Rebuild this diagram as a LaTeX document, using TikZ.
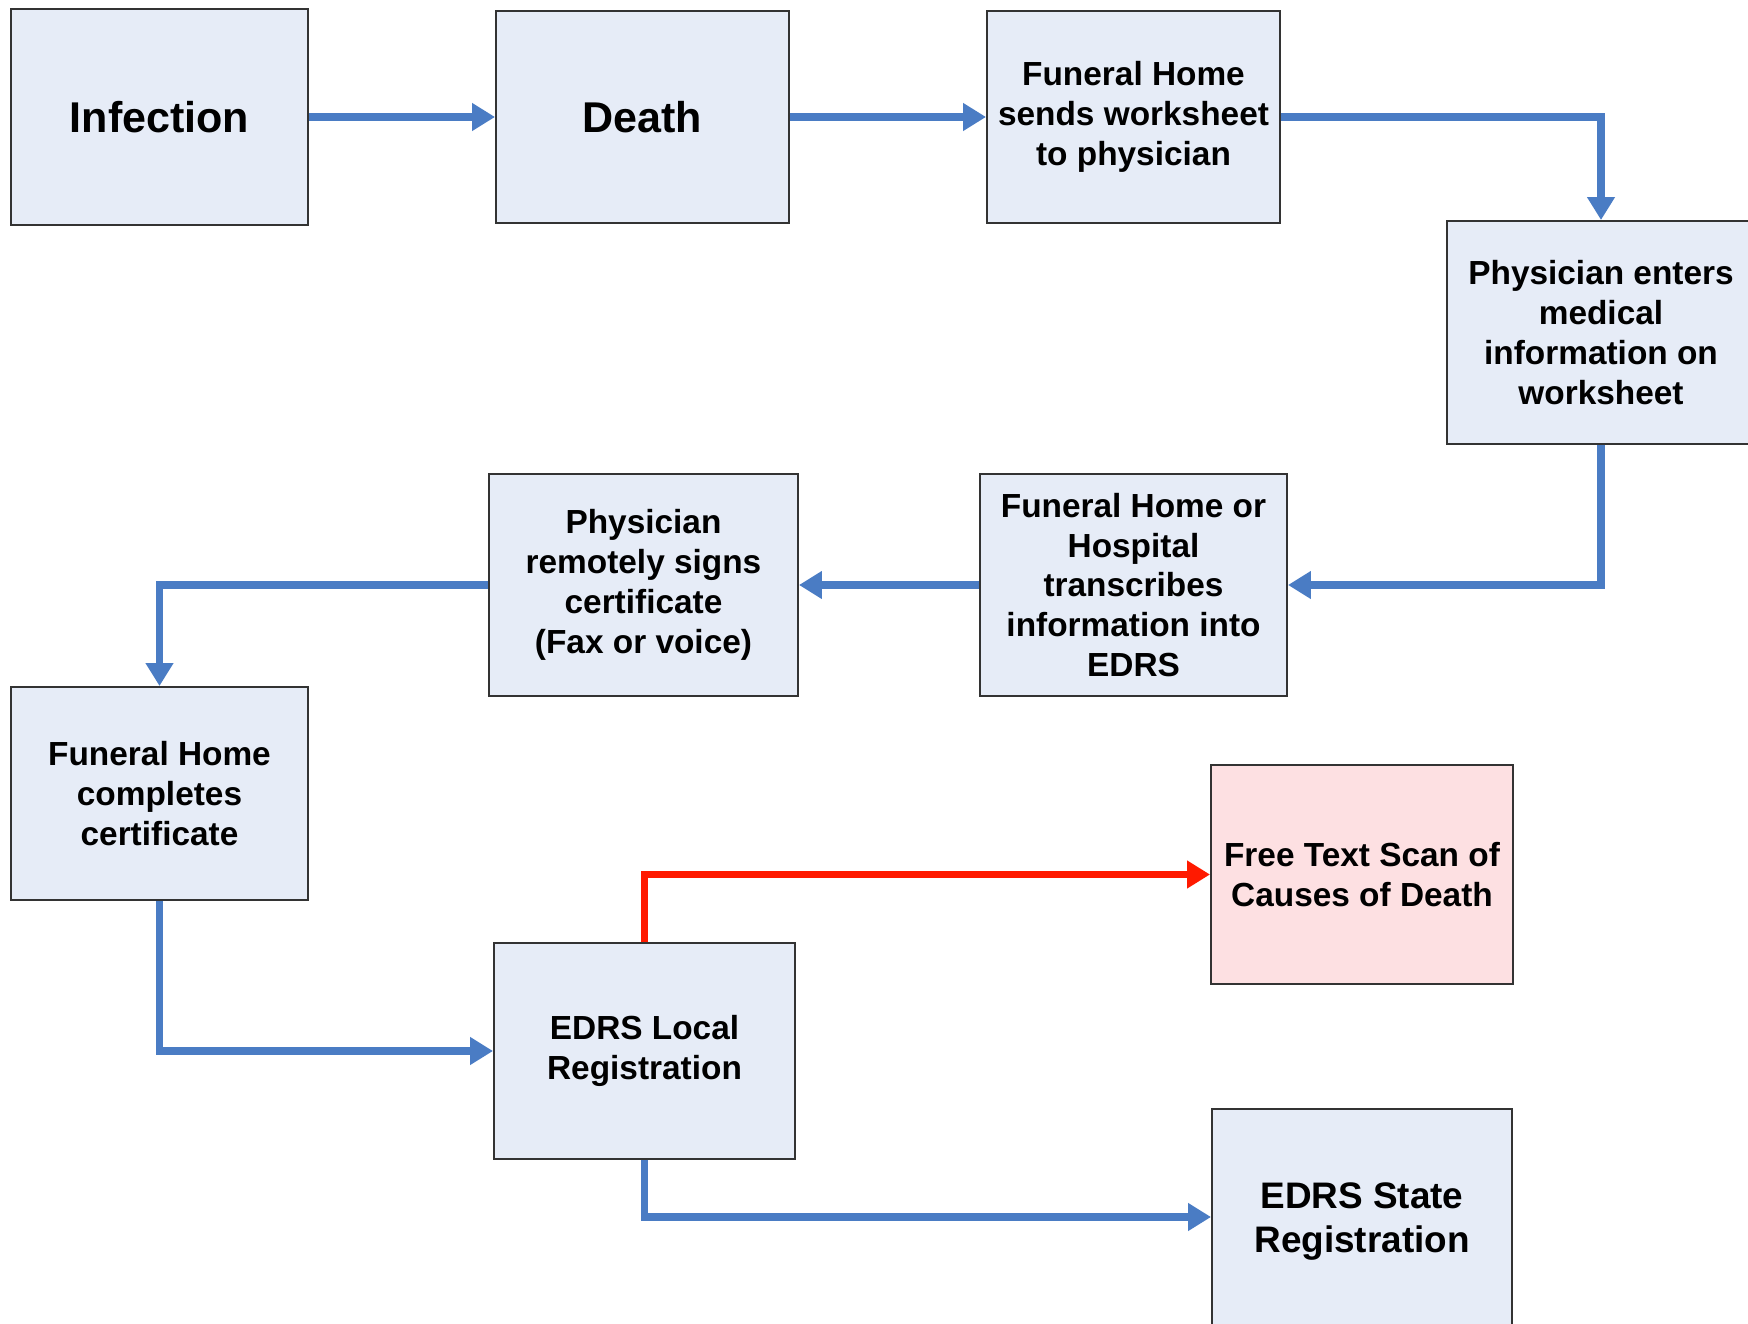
\documentclass[tikz,border=0pt]{standalone}
\usepackage{fontspec}
\setmainfont{Liberation Sans}
\usetikzlibrary{arrows.meta}
\definecolor{boxblue}{HTML}{E6ECF7}
\definecolor{boxpink}{HTML}{FDE0E2}
\definecolor{flowblue}{HTML}{4A7CC4}
\definecolor{flowred}{HTML}{FF1A00}

\begin{document}
\begin{tikzpicture}[
    box/.style={draw=black!80, line width=1.1pt, fill=boxblue, align=center, inner sep=0pt,
        font=\bfseries\fontsize{19}{22.7}\selectfont},
    bigbox/.style={box, font=\bfseries\fontsize{24.5}{28}\selectfont},
    flow/.style={draw=flowblue, line width=4.5pt, -{Triangle[length=13pt,width=15pt]}},
    redflow/.style={flow, draw=flowred}
]
    \clip (0,0) rectangle (34.96,-26.48);
    % Top row
    \node[bigbox, minimum width=5.94cm, minimum height=4.32cm] (infection) at (3.19,-2.34) {Infection};
    \node[bigbox, minimum width=5.86cm, minimum height=4.24cm] (death) at (12.85,-2.34) {Death};
    \node[box, minimum width=5.86cm, minimum height=4.24cm] (sends) at (22.67,-2.34)
        {Funeral Home\\sends worksheet\\to physician};
    \node[box, minimum width=6.16cm, minimum height=4.46cm] (enters) at (32.02,-6.65)
        {Physician enters\\medical\\information on\\worksheet};
    % Middle row
    \node[box, minimum width=6.14cm, minimum height=4.44cm] (hosp) at (22.67,-11.70)
        {Funeral Home or\\Hospital\\transcribes\\information into\\EDRS};
    \node[box, minimum width=6.18cm, minimum height=4.44cm] (signs) at (12.87,-11.70)
        {Physician\\remotely signs\\certificate\\(Fax or voice)};
    \node[box, minimum width=5.94cm, minimum height=4.26cm] (completes) at (3.19,-15.87)
        {Funeral Home\\completes\\certificate};
    % Registration
    \node[box, fill=boxpink, minimum width=6.04cm, minimum height=4.38cm] (scan) at (27.24,-17.49)
        {Free Text Scan of\\Causes of Death};
    \node[box, minimum width=6.02cm, minimum height=4.32cm] (local) at (12.89,-21.02)
        {EDRS Local\\Registration};
    \node[box, font=\bfseries\fontsize{21}{25}\selectfont, minimum width=6.00cm, minimum height=4.50cm]
        (state) at (27.24,-24.43) {EDRS State\\Registration};
    % Arrows
    \foreach \a/\b in {infection/death, death/sends, hosp/signs} {
        \draw[flow] (\a) -- (\b);
    }
    \draw[flow] (sends.east) -| (enters.north);
    \draw[flow] (enters.south) |- (hosp.east);
    \draw[flow] (signs.west) -| (completes.north);
    \draw[flow] (completes.south) |- (local.west);
    \draw[redflow] (local.north) |- (scan.west);
    \draw[flow] (local.south) |- ([yshift=0.09cm]state.west);
\end{tikzpicture}
\end{document}
